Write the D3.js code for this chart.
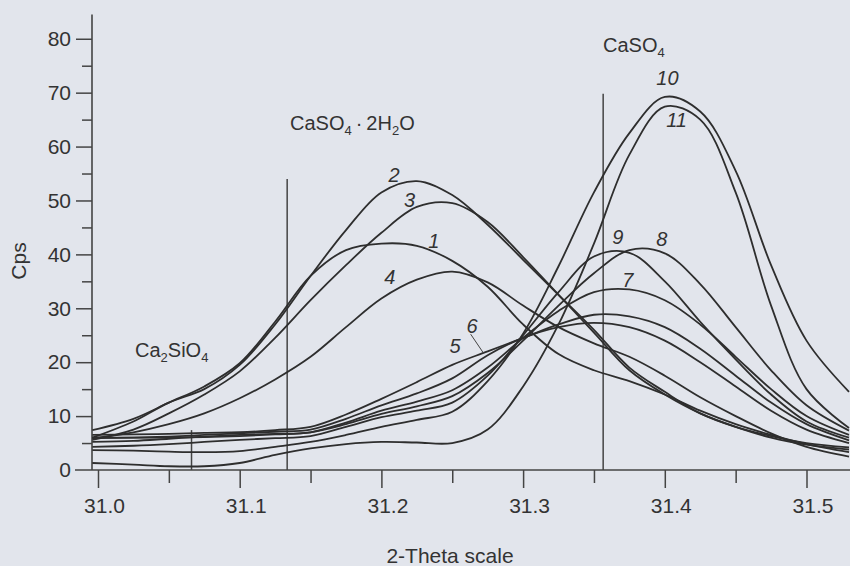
<!DOCTYPE html>
<html>
<head>
<meta charset="utf-8">
<script src="https://cdn.jsdelivr.net/npm/d3@7"></script>
<style>
  html, body { margin: 0; padding: 0; background: #e2e5ec; }
  svg { display: block; font-family: "Liberation Sans", Arial, sans-serif; }
</style>
</head>
<body>
<svg id="chart" width="850" height="566"></svg>
<script>
// ===== DATA =====
const theta = [30.996, 31.025, 31.05, 31.075, 31.1, 31.125, 31.15, 31.175, 31.2, 31.225, 31.25,
               31.275, 31.3, 31.325, 31.35, 31.375, 31.4, 31.425, 31.45, 31.475, 31.5, 31.53];

const cps1  = [7.4, 9.5, 12.5, 15.5, 19.8, 27.5, 36.0, 40.8, 42.0, 41.6, 38.8, 34.0, 27.0, 21.5, 18.5, 16.5, 14.0, 11.0, 8.5, 6.5, 4.8, 3.3];
const cps2  = [6.0, 9.0, 12.5, 15.0, 19.5, 27.0, 36.0, 44.5, 51.5, 53.6, 51.0, 45.5, 39.0, 32.5, 26.0, 19.0, 14.5, 10.5, 8.0, 6.3, 5.0, 4.2];
const cps3  = [5.6, 7.5, 10.5, 14.0, 18.3, 24.5, 31.5, 38.0, 44.0, 48.8, 49.5, 46.0, 39.5, 32.5, 25.5, 18.5, 14.0, 10.5, 8.0, 6.0, 4.7, 3.8];
const cps4  = [5.9, 7.0, 8.5, 10.5, 13.3, 16.8, 21.0, 26.5, 31.8, 35.3, 36.8, 34.8, 30.5, 26.5, 23.5, 21.0, 17.5, 13.5, 10.0, 6.8, 4.3, 2.5];
const cps5  = [6.5, 6.6, 6.7, 6.9, 7.0, 7.4, 8.0, 10.3, 13.2, 16.3, 19.5, 22.0, 24.5, 27.0, 28.8, 28.5, 26.5, 22.5, 17.5, 12.5, 8.5, 5.5];
const cps6  = [5.9, 6.0, 6.2, 6.5, 6.8, 7.1, 7.5, 9.5, 12.0, 14.2, 17.0, 21.3, 24.5, 26.5, 27.3, 26.5, 24.0, 20.0, 15.5, 11.0, 7.5, 5.0];
const cps7  = [5.2, 5.4, 5.8, 6.2, 6.5, 6.7, 7.0, 8.8, 11.0, 12.7, 14.8, 19.0, 24.5, 29.5, 33.0, 33.5, 31.5, 27.0, 21.0, 15.0, 10.0, 6.5];
const cps8  = [6.0, 6.0, 6.0, 6.1, 6.3, 6.6, 7.0, 8.5, 10.4, 11.8, 13.7, 18.0, 24.0, 30.5, 36.5, 40.8, 40.2, 34.5, 26.5, 18.5, 12.0, 7.3];
const cps9  = [4.3, 4.5, 4.8, 5.2, 5.6, 5.9, 6.3, 8.0, 9.8, 11.0, 12.5, 17.5, 25.0, 33.0, 39.6, 40.3, 35.0, 27.5, 20.5, 14.0, 9.0, 6.0];
const cps10 = [3.7, 3.6, 3.4, 3.3, 3.5, 4.3, 5.2, 6.5, 8.0, 9.3, 10.8, 16.5, 25.3, 37.8, 51.5, 62.5, 69.2, 66.5, 55.5, 38.0, 24.0, 14.5];
const cps11 = [1.3, 1.0, 0.7, 0.7, 1.3, 2.8, 4.0, 4.8, 5.2, 5.1, 5.0, 7.5, 15.5, 27.0, 42.0, 58.5, 67.4, 65.0, 51.5, 30.5, 15.0, 7.8];

const seriesCps = [cps1, cps2, cps3, cps4, cps5, cps6, cps7, cps8, cps9, cps10, cps11];

// curve number labels: [label, theta, cps at baseline]
const curveLabels = [
  ["1", 31.233, 41.2], ["2", 31.205, 53.5], ["3", 31.216, 48.8], ["4", 31.202, 34.5],
  ["5", 31.248, 21.7], ["6", 31.260, 25.4], ["7", 31.370, 34.0], ["8", 31.394, 41.6],
  ["9", 31.363, 41.9], ["10", 31.394, 71.5], ["11", 31.401, 63.6]
];

// phase marker lines: theta position and top (cps)
const phaseTheta = [31.066, 31.1335, 31.3565];
const phaseTop   = [7.4, 54.0, 69.8];

const xMajor = [31.0, 31.1, 31.2, 31.3, 31.4, 31.5];
const xMinor = [31.05, 31.15, 31.25, 31.35, 31.45];
const yMajor = [10, 20, 30, 40, 50, 60, 70, 80];
const yMinor = [5, 15, 25, 35, 45, 55, 65, 75];

// ===== SCALES =====
const svg = d3.select("#chart");
const x = d3.scaleLinear().domain([31.0, 31.5]).range([98, 806.5]);
const y = d3.scaleLinear().domain([0, 84.5]).range([470, 14.5]);
const ink = "#333";
const font = "'Liberation Sans', Arial, sans-serif";

// ===== AXES =====
const yAx = svg.append("g").attr("transform", "translate(92,0)");
yAx.call(d3.axisLeft(y).tickValues(yMajor).tickSize(16).tickPadding(5))
   .call(g => g.select(".domain").remove());
yAx.append("g").call(d3.axisLeft(y).tickValues(yMinor).tickSize(10).tickFormat(""))
   .call(g => g.select(".domain").remove());
yAx.append("text").attr("x", -21).attr("y", y(0)).attr("dy", "0.32em")
   .attr("text-anchor", "end").text("0");

const xAx = svg.append("g").attr("transform", "translate(0,470)");
xAx.call(d3.axisBottom(x).tickValues(xMajor).tickSize(18).tickPadding(10).tickFormat(d3.format(".1f")))
   .call(g => g.select(".domain").remove());
xAx.selectAll(".tick text").attr("dx", 6);
xAx.append("g").call(d3.axisBottom(x).tickValues(xMinor).tickSize(13).tickFormat(""))
   .call(g => g.select(".domain").remove());

[yAx, xAx].forEach(g => {
  g.attr("font-size", 21).attr("font-family", font);
  g.selectAll("text").attr("fill", ink).attr("font-size", 21);
  g.selectAll("line").attr("stroke", "#444").attr("stroke-width", 1.5);
});

// axis lines
svg.append("line").attr("x1", 92).attr("x2", 92).attr("y1", y(84.5)).attr("y2", y(0))
   .attr("stroke", "#444").attr("stroke-width", 1.6);
svg.append("line").attr("x1", 75).attr("x2", 850).attr("y1", y(0)).attr("y2", y(0))
   .attr("stroke", "#444").attr("stroke-width", 1.6);

// axis titles
svg.append("text").attr("transform", "translate(26,261) rotate(-90)")
   .attr("text-anchor", "middle").attr("fill", ink).style("font-size", "21px").text("Cps");
svg.append("text").attr("x", 450).attr("y", 563).attr("text-anchor", "middle")
   .attr("fill", ink).style("font-size", "21px").text("2-Theta scale");

// ===== PHASE LINES =====
svg.append("g").selectAll("line").data(phaseTheta).join("line")
   .attr("x1", d => x(d)).attr("x2", d => x(d))
   .attr("y1", (d, i) => y(phaseTop[i])).attr("y2", y(0))
   .attr("stroke", "#444").attr("stroke-width", 1.5);

// ===== CURVES =====
const line = d3.line().x(d => x(d[0])).y(d => y(d[1])).curve(d3.curveCatmullRom.alpha(0.5));
svg.append("g").selectAll("path").data(seriesCps).join("path")
   .attr("d", s => line(theta.map((t, i) => [t, s[i]])))
   .attr("fill", "none").attr("stroke", "#2e2e2e").attr("stroke-width", 1.8);

// curve numbers
svg.append("g").selectAll("text").data(curveLabels).join("text")
   .attr("x", d => x(d[1])).attr("y", d => y(d[2]))
   .attr("fill", ink).style("font-size", "20px").style("font-style", "italic")
   .text(d => d[0]);

// leader line for curve 6
svg.append("line").attr("x1", x(31.263)).attr("y1", y(25.2)).attr("x2", x(31.272)).attr("y2", y(21.7))
   .attr("stroke", "#444").attr("stroke-width", 1);

// ===== PHASE NAMES =====
function chem(xp, yp, parts) {
  const t = svg.append("text").attr("x", xp).attr("y", yp).attr("fill", ink).style("font-size", "20px");
  let shifted = false;
  parts.forEach(p => {
    const ts = t.append("tspan").text(p.s);
    if (p.sub) { ts.attr("dy", 5).style("font-size", "13px"); shifted = true; }
    else if (shifted) { ts.attr("dy", -5); shifted = false; }
  });
}
chem(135, 357, [{s: "Ca"}, {s: "2", sub: true}, {s: "SiO"}, {s: "4", sub: true}]);
chem(290, 130, [{s: "CaSO"}, {s: "4", sub: true}, {s: "\u2009\u00b7\u20092H"}, {s: "2", sub: true}, {s: "O"}]);
chem(603, 52,  [{s: "CaSO"}, {s: "4", sub: true}]);
</script>
</body>
</html>
